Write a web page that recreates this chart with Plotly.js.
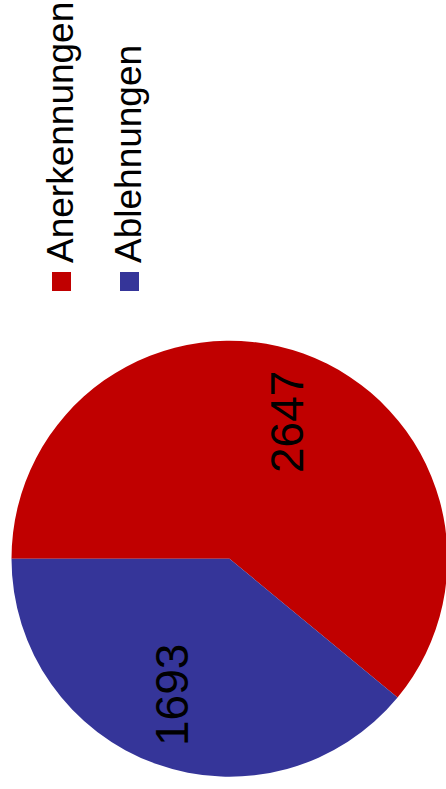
<!DOCTYPE html>
<html>
<head>
<meta charset="utf-8">
<script src="https://cdn.plot.ly/plotly-3.0.1.min.js"></script>
<style>
  html, body { margin: 0; padding: 0; width: 446px; height: 789px; overflow: hidden; background: #fff; }
  #chart { position: absolute; left: 0; top: 0; width: 789px; height: 460px;
           transform-origin: 0 0; transform: translate(0px, 789px) rotate(-90deg); }
</style>
</head>
<body>
<div id="chart"></div>
<script>
const categories = ["Anerkennungen", "Ablehnungen"];
const values = [2647, 1693];
const colors = ["#C00000", "#353599"];

const FONT = "Liberation Sans, Arial, Helvetica, sans-serif";
const W = 789, H = 460;

// pie geometry (pixels in the unrotated frame)
const cx = 230.3, cy = 229.5, R = 218;

const trace = {
  type: "pie",
  labels: categories,
  values: values,
  sort: false,
  direction: "clockwise",
  rotation: 0,
  marker: { colors: colors, line: { width: 0 } },
  textinfo: "none",
  hoverinfo: "none",
  domain: { x: [(cx - R) / W, (cx + R) / W], y: [1 - (cy + R) / H, 1 - (cy - R) / H] },
  showlegend: false
};

const shapes = [], annotations = [];

// value labels placed inside each slice, at its mid-angle
const total = values.reduce((a, b) => a + b, 0);
let cum = 0;
values.forEach((v, i) => {
  const mid = (cum + v / 2) / total * 360 + 3; // degrees clockwise from 12 o'clock
  cum += v;
  const a = mid * Math.PI / 180;
  const px = cx + 0.68 * R * Math.sin(a);
  const py = cy - 0.68 * R * Math.cos(a);
  annotations.push({
    xref: "paper", yref: "paper",
    x: px / W, y: 1 - py / H,
    xanchor: "center", yanchor: "middle",
    text: String(v), showarrow: false,
    font: { family: FONT, size: 46, color: "#000000" }
  });
});

// legend
const legendX = 498, legendTextX = 524, legendTop = 52, legendStep = 68, sq = 19;
categories.forEach((c, i) => {
  const y0 = legendTop + i * legendStep;
  shapes.push({
    type: "rect", xref: "paper", yref: "paper",
    x0: legendX / W, x1: (legendX + sq) / W,
    y0: 1 - (y0 + sq) / H, y1: 1 - y0 / H,
    fillcolor: colors[i], line: { width: 0 }
  });
  annotations.push({
    xref: "paper", yref: "paper",
    x: legendTextX / W, y: 1 - (y0 + sq / 2 - 1) / H,
    xanchor: "left", yanchor: "middle",
    text: c, showarrow: false,
    font: { family: FONT, size: 37, color: "#000000" }
  });
});

const layout = {
  width: W, height: H,
  margin: { l: 0, r: 0, t: 0, b: 0 },
  paper_bgcolor: "#ffffff",
  plot_bgcolor: "#ffffff",
  showlegend: false,
  shapes: shapes,
  annotations: annotations
};

Plotly.newPlot("chart", [trace], layout, { staticPlot: true, displayModeBar: false });
</script>
</body>
</html>
